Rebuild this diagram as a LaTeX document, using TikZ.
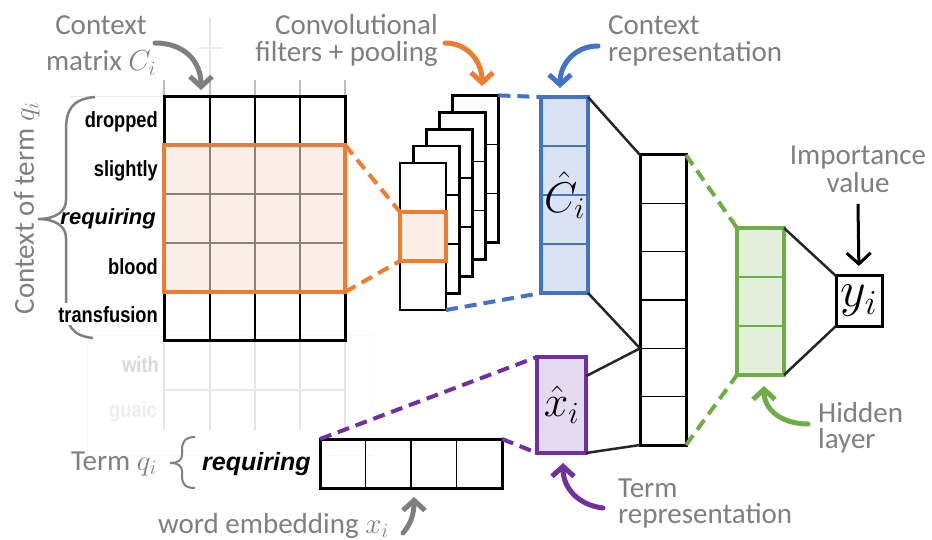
\documentclass[tikz,border=0pt]{standalone}
\usepackage{fix-cm}
\usepackage{fontspec}
\usetikzlibrary{arrows.meta,calc}
\setmainfont{Carlito}
\newfontfamily\wordfont[FakeStretch=0.83]{Liberation Sans}
\newfontfamily\worditfont{Liberation Sans}
\definecolor{lblgray}{HTML}{7F7F7F}
\definecolor{orng}{HTML}{ED7D31}
\definecolor{orngfill}{HTML}{FBEEE6}
\definecolor{blu}{HTML}{4472C4}
\definecolor{blufill}{HTML}{DAE3F3}
\definecolor{purp}{HTML}{7030A0}
\definecolor{purpfill}{HTML}{E5DAF0}
\definecolor{grn}{HTML}{70AD47}
\definecolor{grnfill}{HTML}{E2EFDA}
\definecolor{gridgray}{HTML}{8C8078}
\begin{document}
\begin{tikzpicture}[x=1pt,y=-1pt,
  lbl/.style={font=\fontsize{29}{33}\selectfont, text=lblgray, inner sep=0pt},
  word/.style={font=\wordfont\bfseries\fontsize{22}{22}\selectfont, inner sep=0pt},
  worditl/.style={font=\worditfont\bfseries\itshape\fontsize{22}{22}\selectfont, inner sep=0pt},
  blk/.style={rectangle, inner sep=0pt, outer sep=0pt},
  conn/.style={line width=2.5pt, black!85},
  dashconn/.style={line width=4pt, dash pattern=on 12pt off 7pt},
  callout/.style={line width=5pt, line cap=round, -{Straight Barb[length=10pt,width=22pt]}},
  hcells/.style n args={2}{path picture={
    \foreach \i in {1,...,#1}{
      \draw[#2] ($(path picture bounding box.north west)!{\i/(#1+1)}!(path picture bounding box.south west)$)
             -- ($(path picture bounding box.north east)!{\i/(#1+1)}!(path picture bounding box.south east)$);
    }}},
  vcells/.style n args={2}{path picture={
    \foreach \i in {1,...,#1}{
      \draw[#2] ($(path picture bounding box.north west)!{\i/(#1+1)}!(path picture bounding box.north east)$)
             -- ($(path picture bounding box.south west)!{\i/(#1+1)}!(path picture bounding box.south east)$);
    }}}
]
\useasboundingbox[fill=white] (0,0) rectangle (932,540);

% faded table behind the context matrix
\draw[black!10, line width=1.2pt] (210,18) -- (210,97);
\draw[black!8, line width=1.2pt] (200,48) -- (222,48);
\draw[black!8, line width=1pt] (70,97) -- (164,97);
\foreach \x in {164,210,255,300,345} \draw[black!25, line width=1.5pt] (\x,80) -- (\x,97);
\draw[black!3, line width=1pt] (87,335) rectangle (373,455);
\foreach \x in {164,210,255,300,345} \draw[black!10, line width=1.5pt] (\x,340) -- (\x,430);
\draw[black!9, line width=1.5pt] (164,390) -- (345,390);
\node[word, anchor=base east, text=black!15] (wwith) at (159,372) {with};
\node[word, anchor=base east, text=black!7] (wguaic) at (157,417) {guaic};

% brace around the context words
\draw[lblgray, line width=2.5pt] (95,97) .. controls (72,99) and (66,110) .. (66,130) -- (66,200)
  .. controls (66,212) and (55,219) .. (38,219) .. controls (55,219) and (66,226) .. (66,238)
  -- (66,305) .. controls (66,325) and (72,336) .. (93,338);
\node[lbl, anchor=base, rotate=90] (ctxterm) at (34,208) {Context of term $q_i$};

% words of the context window
\node[word, anchor=base east] (wdropped) at (158,128) {dropped};
\node[word, anchor=base east] (wslightly) at (158,177) {slightly};
\node[worditl, anchor=base east] (wrequiring) at (156,225) {requiring};
\node[word, anchor=base east] (wblood) at (158,275) {blood};
\node[word, anchor=base east, fill=white, inner sep=3pt] (wtransfusion) at (161,322) {transfusion};

% context matrix with the convolution window
\fill[orngfill] (164,145) rectangle (345,292);
\foreach \x in {210,255,300}{
  \draw[line width=1.5pt] (\x,97) -- (\x,145);
  \draw[gridgray, line width=1.5pt] (\x,145) -- (\x,292);
  \draw[line width=1.5pt] (\x,292) -- (\x,340);
}
\foreach \y in {194,243} \draw[gridgray, line width=1.5pt] (164,\y) -- (345,\y);
\node[blk, draw, line width=3pt, minimum width=181pt, minimum height=243pt] (mat) at (254.5,218.5) {};
\node[blk, draw=orng, line width=4pt, minimum width=181pt, minimum height=147pt] (win) at (254.5,218.5) {};

% stack of feature maps
\foreach \k in {4,3,2,1,0}
  \node[blk, draw, fill=white, line width=2.8pt, minimum width=46pt, minimum height=147pt,
        hcells={2}{line width=1.5pt}] (f\k) at ({423+13.1*\k},{236.5-16.9*\k}) {};
\node[blk, draw=orng, fill=orngfill, line width=3.5pt, minimum width=46pt, minimum height=49pt] (osq) at (f0.center) {};

% representations and layers
\node[blk, draw=blu, fill=blufill, line width=3.5pt, minimum width=47pt, minimum height=196pt,
      hcells={3}{blu, line width=1.2pt}, font=\fontsize{43}{43}\selectfont] (ctx) at (564.5,195) {$\hat{C}_i$};
\node[blk, draw=purp, fill=purpfill, line width=3.5pt, minimum width=49pt, minimum height=96pt,
      font=\fontsize{44}{44}\selectfont] (xh) at (561.5,405) {$\hat{x}_i$};
\node[blk, draw, line width=3pt, minimum width=46pt, minimum height=290pt,
      hcells={5}{line width=1.3pt}] (cat) at (663,300) {};
\node[blk, draw=grn, fill=grnfill, line width=3.5pt, minimum width=47pt, minimum height=147pt,
      hcells={2}{grn, line width=1.2pt}] (hid) at (760.5,301.5) {};
\node[blk, draw, line width=3pt, minimum width=46pt, minimum height=50pt,
      font=\fontsize{50}{50}\selectfont] (out) at (859,301) {$y_i$};
\node[blk, draw, line width=3pt, minimum width=182pt, minimum height=49pt,
      vcells={3}{line width=1.5pt}] (emb) at (411,463.5) {};

% term row
\node[lbl, anchor=base east] (termq) at (157,470) {Term $q_i$};
\draw[lblgray, line width=2pt] (195,437) .. controls (185,437) and (182,442) .. (182,450) -- (182,455)
  .. controls (182,460) and (178,463) .. (170,463) .. controls (178,463) and (182,466) .. (182,471)
  -- (182,476) .. controls (182,484) and (185,488) .. (195,488);
\node[worditl, font=\worditfont\bfseries\itshape\fontsize{25}{25}\selectfont, anchor=base west] (wterm) at (202,470) {requiring};

% dashed projections
\draw[dashconn, orng] (win.north east) -- (osq.north west);
\draw[dashconn, orng] (win.south east) -- (osq.south west);
\draw[dashconn, blu] (f4.north east) -- (ctx.north west);
\draw[dashconn, blu] (f0.south east) -- (ctx.south west);
\draw[dashconn, purp] (emb.north west) -- (xh.north west);
\draw[dashconn, purp] (emb.north east) -- (xh.south west);
\draw[dashconn, grn] (cat.north east) -- (hid.north west);
\draw[dashconn, grn] (cat.south east) -- (hid.south west);

% dense connections
\coordinate (catin) at ($(cat.south west)!1/3!(cat.north west)$);
\coordinate (xhout) at ($(xh.north east)!0.2!(xh.south east)$);
\draw[conn] (ctx.north east) -- (cat.north west);
\draw[conn] (ctx.south east) -- (catin);
\draw[conn] (xhout) -- (catin);
\draw[conn] (xh.south east) -- (cat.south west);
\draw[conn] (hid.north east) -- (out.north west);
\draw[conn] (hid.south east) -- (out.south west);

% labels with their pointers
\node[lbl, anchor=base] (cmA) at (101,35) {Context};
\node[lbl, anchor=base] (cmB) at (101,71) {matrix $C_i$};
\node[lbl, anchor=base east] (cfA) at (438,35) {Convolutional};
\node[lbl, anchor=base east] (cfB) at (438,62) {filters + pooling};
\node[lbl, anchor=base west] (crA) at (608,35) {Context};
\node[lbl, anchor=base west] (crB) at (608,62) {representation};
\node[lbl, anchor=base] (ivA) at (858,165) {Importance};
\node[lbl, anchor=base] (ivB) at (858,193) {value};
\node[lbl, anchor=base west] (hlA) at (818,422) {Hidden};
\node[lbl, anchor=base west] (hlB) at (818,448) {layer};
\node[lbl, anchor=base west] (trA) at (618,497) {Term};
\node[lbl, anchor=base west] (trB) at (618,523) {representation};
\node[lbl, anchor=base west] (wemb) at (158,533) {word embedding $x_i$};

\coordinate (cmS) at (155,43);   \coordinate (cmE) at (201,90);
\coordinate (cfS) at (445,43);   \coordinate (cfE) at (482,86);
\coordinate (crS) at (598,46);   \coordinate (crE) at (560,88);
\coordinate (hlS) at (808,424);  \coordinate (hlE) at (764,386);
\coordinate (trS) at (603,508);  \coordinate (trE) at (563,463);
\coordinate (weS) at (403,533);  \coordinate (weE) at (414,497);
\draw[callout, lblgray] (cmS) .. controls (185,43) and (201,62) .. (cmE);
\draw[callout, orng] (cfS) .. controls (468,43) and (482,62) .. (cfE);
\draw[callout, blu] (crS) .. controls (575,46) and (560,64) .. (crE);
\draw[callout, grn] (hlS) .. controls (782,424) and (764,410) .. (hlE);
\draw[callout, purp] (trS) .. controls (578,505) and (563,488) .. (trE);
\draw[callout, lblgray] (weS) .. controls (410,525) and (414,515) .. (weE);
\draw[line width=3pt, shorten >=10pt, -{Straight Barb[length=11pt,width=24pt]}] (ivB.south |- 0,204) -- (out.north);
\end{tikzpicture}
\end{document}
